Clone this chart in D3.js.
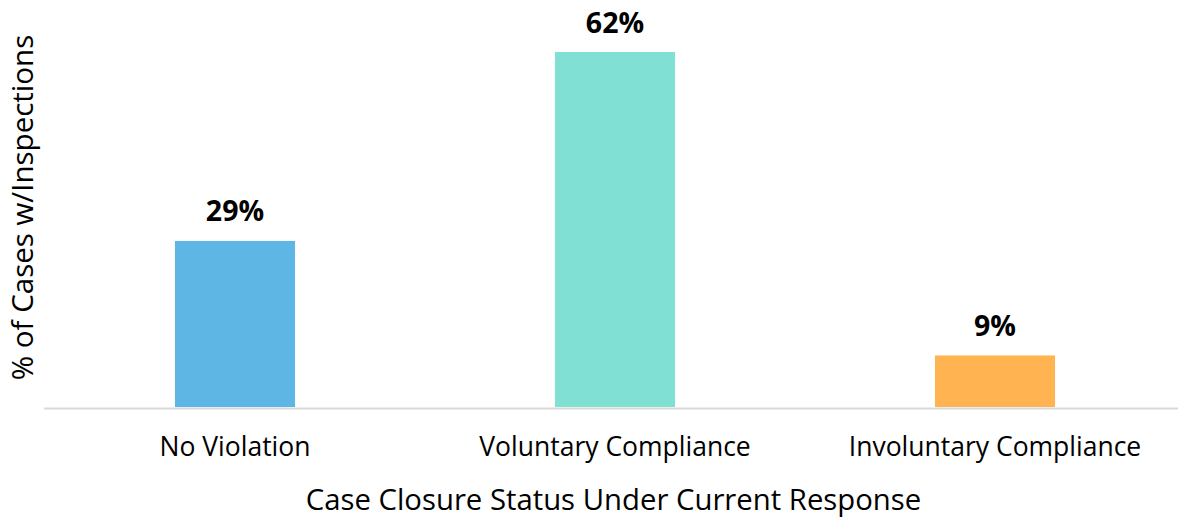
<!DOCTYPE html>
<html><head><meta charset="utf-8">
<script src="https://cdn.jsdelivr.net/npm/d3@7"></script>
<style>body{margin:0;background:#fff;}svg{display:block;font-family:"Open Sans",sans-serif;}</style>
</head><body><svg id="c" width="1178" height="518"></svg>
<script>
const categories = ["No Violation", "Voluntary Compliance", "Involuntary Compliance"];
const values = [29, 62, 9];
const valueLabels = ["29%", "62%", "9%"];
const colors = ["#5DB6E3", "#80E0D4", "#FFB351"];
const xTitle = "Case Closure Status Under Current Response";
const yTitle = "% of Cases w/Inspections";

const svg = d3.select("#c");
const x = d3.scaleBand().domain(categories).range([45, 1185]).paddingInner(0.684).paddingOuter(0.342);
const y = d3.scaleLinear().domain([0, 62]).range([407, 52]);

svg.append("line").attr("x1", 44).attr("x2", 1178).attr("y1", 408.5).attr("y2", 408.5)
  .attr("stroke", "#d9d9d9").attr("stroke-width", 2);

svg.selectAll("rect.bar").data(values).join("rect").attr("class", "bar")
  .attr("x", (d, i) => x(categories[i])).attr("width", x.bandwidth())
  .attr("y", d => y(d)).attr("height", d => y(0) - y(d))
  .attr("fill", (d, i) => colors[i]);

svg.selectAll("text.val").data(values).join("text").attr("class", "val")
  .attr("x", (d, i) => x(categories[i]) + x.bandwidth() / 2)
  .attr("y", d => y(d) - 19.5)
  .attr("text-anchor", "middle").attr("font-size", 28.5).attr("font-weight", "bold").attr("fill", "#000")
  .text((d, i) => valueLabels[i]);

const xAxis = d3.axisBottom(x).tickSize(0).tickPadding(0);
const gx = svg.append("g").call(xAxis);
gx.select(".domain").remove();
gx.selectAll("text").attr("y", 455.5).attr("dy", null).attr("font-size", 26.5)
  .attr("font-family", "Open Sans, sans-serif").attr("fill", "#000");

svg.append("text").attr("x", 613.5).attr("y", 509.5).attr("text-anchor", "middle")
  .attr("font-size", 29.3).attr("fill", "#000").text(xTitle);

svg.append("text").attr("transform", "translate(32.5,207.5) rotate(-90)").attr("text-anchor", "middle")
  .attr("font-size", 29.5).attr("fill", "#000").text(yTitle);
</script></body></html>
